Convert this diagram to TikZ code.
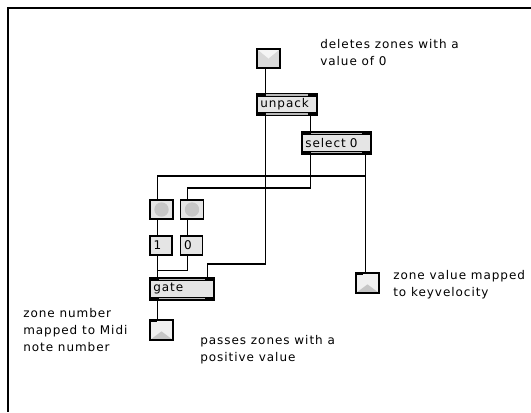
\documentclass[tikz,border=0pt]{standalone}
\usepackage{fontspec}
\newfontfamily\maxfont[LetterSpace=8]{DejaVu Sans}
\usetikzlibrary{calc}

\begin{document}
\begin{tikzpicture}[x=0.75pt, y=-0.75pt,
   every node/.style={font=\maxfont\fontsize{9}{12.75}\selectfont, inner sep=0pt},
   patch/.style={draw, line width=1pt, fill=gray!20, minimum height=16.5pt,
      text width=#1, inner xsep=2.5pt, align=left,
      path picture={
         \fill[black] (path picture bounding box.north west) rectangle ([yshift=-2.4pt]path picture bounding box.north east);
         \fill[black] (path picture bounding box.south west) rectangle ([yshift=2.4pt]path picture bounding box.south east);
         \fill[gray!55] ([xshift=7pt,yshift=-0.6pt]path picture bounding box.north west) rectangle ([xshift=-7pt,yshift=-1.6pt]path picture bounding box.north east);
         \fill[gray!55] ([xshift=7pt,yshift=0.6pt]path picture bounding box.south west) rectangle ([xshift=-7pt,yshift=1.6pt]path picture bounding box.south east);
      }},
   msgbox/.style={draw, line width=1pt, fill=gray!20, minimum height=14.25pt,
      text width=11pt, inner xsep=2.75pt, align=left},
   bang/.style={draw, line width=1pt, fill=gray!20, minimum width=17.25pt, minimum height=14.25pt,
      path picture={\fill[gray!45] (path picture bounding box.center) circle (5.4pt);}},
   inlet/.style={draw, line width=1pt, fill=gray!30, minimum width=17.25pt, minimum height=14.25pt,
      path picture={\fill[gray!8] (path picture bounding box.north west) -- (path picture bounding box.center)
         -- (path picture bounding box.north east) -- cycle;}},
   outlet/.style={draw, line width=1pt, fill=gray!12, minimum width=17.25pt, minimum height=15pt,
      path picture={\fill[gray!45] (path picture bounding box.south west) -- ([yshift=-1pt]path picture bounding box.center)
         -- (path picture bounding box.south east) -- cycle;
         \fill[black] (path picture bounding box.north west) rectangle ([xshift=5pt,yshift=-1.8pt]path picture bounding box.north west);}},
   note/.style={anchor=base west, align=left},
   wire/.style={line width=0.95pt}]

\useasboundingbox (0,0) rectangle (531,412);
\draw[line width=1.9pt] (531,8) -- (8,8) -- (8,412);

\node[inlet] (in) at (268.5,58.5) {};
\node[patch=40pt] (unpack) at (287,104.5) {unpack};
\node[patch=46.75pt] (sel) at (336.5,143) {select 0};
\node[bang] (bangA) at (161.5,209.5) {};
\node[bang] (bangB) at (192,209.5) {};
\node[msgbox] (one) at (161,245.5) {1};
\node[msgbox] (zero) at (191.5,245.5) {0};
\node[patch=43pt] (gate) at (182,289) {gate};
\node[outlet] (noteout) at (161.5,330) {};
\node[outlet] (velout) at (367.5,283) {};

% base anchor sits on the last line
\node[note] (c1) at (320,65) {deletes zones with a\\value of 0};
\node[note] (c2) at (393,296.5) {zone value mapped\\to keyvelocity};
\node[note] (c3) at (23,351) {zone number\\mapped to Midi\\note number};
\node[note] (c4) at (200,361.5) {passes zones with a\\positive value};

\coordinate (a) at ($(in.south west)+(9,0)$);
\draw[wire] (a) -- (a |- unpack.north);
\coordinate (b) at ($(unpack.south west)+(9,0)$);
\draw[wire] (b) -- (b |- 0,264) -| ($(gate.north west)+(58,0)$);
\coordinate (c) at ($(unpack.south east)+(-7,0)$);
\draw[wire] (c) -- (c |- sel.north);
\coordinate (d) at ($(sel.south west)+(9,0)$);
\draw[wire] (d) -- (d |- 0,188) -| ($(bangB.north west)+(8,0)$);
\coordinate (e) at ($(sel.south east)+(-6,0)$);
\draw[wire] (e) -- (e |- velout.north);
\draw[wire] (e |- 0,176) -| ($(bangA.north west)+(8,0)$);
\draw[wire] ($(bangA.south west)+(8,0)$) -- ($(one.north west)+(8,0)$);
\draw[wire] ($(bangB.south west)+(8,0)$) -- ($(zero.north west)+(8,0)$);
\draw[wire] ($(one.south west)+(8,0)$) -- ($(gate.north west)+(8,0)$);
\draw[wire] ($(zero.south west)+(8,0)$) |- ($(one.south west)+(8,15)$);
\draw[wire] ($(gate.south west)+(8,0)$) -- ($(noteout.north west)+(8,0)$);

\end{tikzpicture}
\end{document}
